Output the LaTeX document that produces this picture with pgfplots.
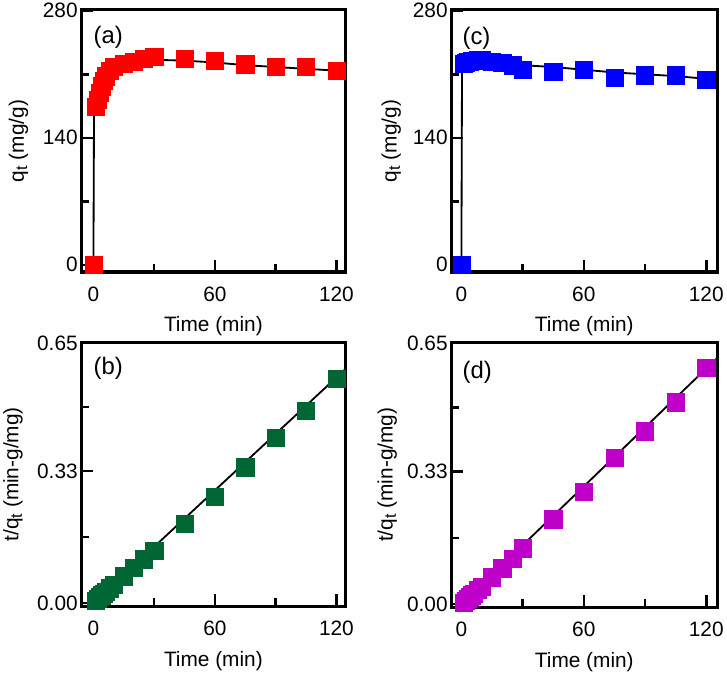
\documentclass[border=0pt]{standalone}
\usepackage{pgfplots}
\pgfplotsset{compat=1.18}
\usepackage{fontspec}
\setmainfont{Liberation Sans}
\definecolor{cgreen}{RGB}{0,102,51}
\definecolor{cpurple}{RGB}{190,0,200}
\newcommand{\tsub}{\raisebox{-0.3ex}{\fontsize{16}{16}\selectfont t}}
\pgfplotsset{
  base/.style={scale only axis, width=260pt, height=258pt,
    axis line style={line width=3.2pt},
    xtick pos=lower, ytick pos=lower,
    major tick style={line width=2.5pt, black}, major tick length=12pt,
    minor tick style={line width=2.5pt, black}, minor tick length=8pt,
    tick align=inside,
    xmin=-6, xmax=124.5, xtick={0,60,120}, minor xtick={30,90},
    tick label style={font=\fontsize{20.5}{24}\selectfont},
    xticklabel style={yshift=-11pt},
    xlabel={Time (min)}, xlabel style={font=\fontsize{20.5}{24}\selectfont, yshift=-8pt},
    ylabel style={font=\fontsize{20.5}{24}\selectfont},
    clip=false,
    /pgf/number format/assume math mode=true},
}
\begin{document}
\begin{tikzpicture}
% (a)
\begin{axis}[base, at={(87pt,-277pt)}, anchor=south west,
  ymin=-8, ymax=281, ytick={0,140,280}, minor ytick={70,210},
  ylabel={q\tsub{} (mg/g)},
  ylabel style={at={(axis description cs:-0.238,0.5)}, anchor=center}]
\addplot[black, line width=1.8pt, no marks] coordinates {(0,0) (0.3,170) (1,185) (2,196) (4,208) (6,214) (10,220) (15,223) (20,225) (30,226) (45,225) (60,223) (75,220) (90,218) (105,216) (120,214)};
\addplot[only marks, mark=square*, mark size=8.5pt, mark options={draw=red, fill=red, line width=0.4pt}] coordinates {(0,0) (1,174) (2,182) (3,190) (4,197) (5,203) (6,208) (8,214) (10,218) (15,222) (20,224) (25,227) (30,229) (45,227) (60,225) (75,221) (90,218) (105,218) (120,214)};
\node[anchor=west, font=\fontsize{23.5}{26}\selectfont, inner sep=0pt] at (rel axis cs:0.046,0.895) {(a)};
\end{axis}
% (c)
\begin{axis}[base, at={(451pt,-277pt)}, anchor=south west, xmin=-5, xmax=125.5, width=262pt,
  ymin=-8, ymax=281, ytick={0,140,280}, minor ytick={70,210},
  ylabel={q\tsub{} (mg/g)},
  ylabel style={at={(axis description cs:-0.225,0.5)}, anchor=center}]
\addplot[black, line width=1.8pt, no marks] coordinates {(0,0) (0.3,215) (1,222) (5,224) (15,223) (30,220) (45,218) (60,215) (75,212) (90,210) (105,208) (120,205)};
\addplot[only marks, mark=square*, mark size=8.5pt, mark options={draw=blue, fill=blue, line width=0.4pt}] coordinates {(0,0) (1,222) (2,223) (3,224) (4,224) (5,225) (6,225) (8,226) (10,226) (15,224) (20,223) (25,220) (30,215) (45,213) (60,215) (75,206) (90,209) (105,209) (120,204)};
\node[anchor=west, font=\fontsize{23.5}{26}\selectfont, inner sep=0pt] at (rel axis cs:0.042,0.89) {(c)};
\end{axis}
% (b)
\begin{axis}[base, at={(87pt,-606pt)}, anchor=south west, height=260pt,
  ymin=-0.008, ymax=0.652, ytick={0,0.33,0.65}, minor ytick={0.165,0.49},
  yticklabels={0.00,0.33,0.65},
  ylabel={t/q\tsub{} (min-g/mg)},
  ylabel style={at={(axis description cs:-0.258,0.5)}, anchor=center}]
\addplot[black, line width=1.8pt, no marks] coordinates {(0,0) (124.5,0.585)};
\addplot[only marks, mark=square*, mark size=8.5pt, mark options={draw=cgreen, fill=cgreen, line width=0.4pt}] coordinates {(1,0.0057) (2,0.0110) (3,0.0158) (4,0.0203) (5,0.0246) (6,0.0288) (8,0.0374) (10,0.0459) (15,0.0676) (20,0.0893) (25,0.1101) (30,0.1310) (45,0.1982) (60,0.2667) (75,0.3394) (90,0.4128) (105,0.4817) (120,0.5607)};
\node[anchor=west, font=\fontsize{23.5}{26}\selectfont, inner sep=0pt] at (rel axis cs:0.046,0.9) {(b)};
\end{axis}
% (d)
\begin{axis}[base, at={(451pt,-607pt)}, anchor=south west, xmin=-5, xmax=125.5, width=262pt, height=261pt,
  ymin=-0.008, ymax=0.652, ytick={0,0.33,0.65}, minor ytick={0.165,0.49},
  yticklabels={0.00,0.33,0.65},
  ylabel={t/q\tsub{} (min-g/mg)},
  ylabel style={at={(axis description cs:-0.24,0.5)}, anchor=center}]
\addplot[black, line width=1.8pt, no marks] coordinates {(0,0) (125,0.611)};
\addplot[only marks, mark=square*, mark size=8.5pt, mark options={draw=cpurple, fill=cpurple, line width=0.4pt}] coordinates {(1,0.0045) (2,0.0090) (3,0.0134) (4,0.0179) (5,0.0222) (6,0.0267) (8,0.0354) (10,0.0442) (15,0.0670) (20,0.0897) (25,0.1136) (30,0.1395) (45,0.2113) (60,0.2791) (75,0.3641) (90,0.4306) (105,0.5024) (120,0.5882)};
\node[anchor=west, font=\fontsize{23.5}{26}\selectfont, inner sep=0pt] at (rel axis cs:0.042,0.885) {(d)};
\end{axis}
\end{tikzpicture}
\end{document}
